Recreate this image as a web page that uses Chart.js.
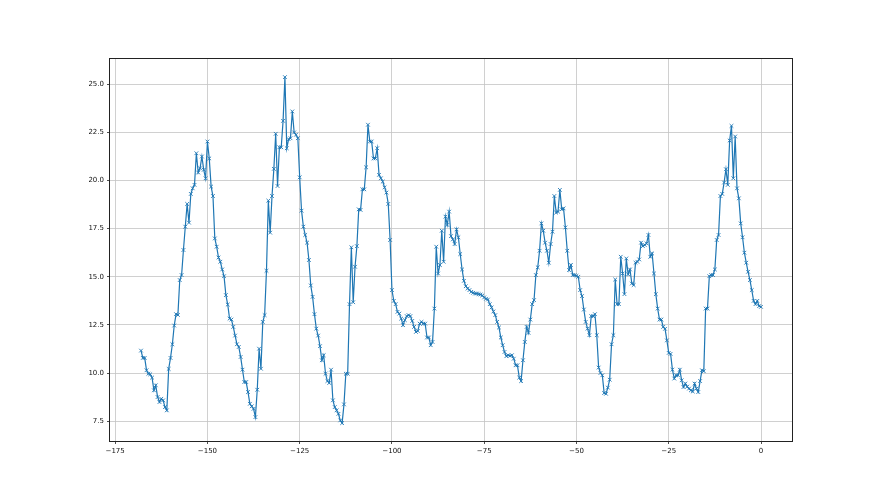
<!DOCTYPE html>
<html lang="en">
<head>
<meta charset="UTF-8">
<title>Series</title>
<style>
  * { margin: 0; padding: 0; box-sizing: border-box; }
  body { background: #fff; width: 880px; height: 495px; overflow: hidden; }
  #chart-container { width: 880px; height: 495px; }
</style>
</head>
<body>
<div id="chart-container"><canvas id="myChart" width="880" height="495"></canvas></div>
<script src="https://cdn.jsdelivr.net/npm/chart.js"></script>
<script>
// sample range on the x axis (evenly spaced samples)
const xStart = -168;
const xEnd = 0;

const xTicks = [-175, -150, -125, -100, -75, -50, -25, 0];
const yTicks = [7.5, 10, 12.5, 15, 17.5, 20, 22.5, 25];

// values, left to right
const values = [
  11.17, 10.79, 10.79, 10.15, 9.97, 9.94, 9.77, 9.11, 9.37, 8.76, 8.50, 8.67, 8.59, 8.24, 8.07,
  10.22, 10.79, 11.50, 12.47, 13.06, 13.02, 14.83, 15.09, 16.39, 17.60, 18.78, 17.81, 19.30, 19.59,
  19.77, 21.41, 20.41, 20.63, 21.24, 20.55, 20.11, 22.02, 21.14, 19.68, 19.19, 16.99, 16.56, 16.00,
  15.78, 15.38, 15.03, 14.05, 13.56, 12.83, 12.78, 12.40, 11.95, 11.50, 11.36, 10.84,

  10.18, 9.54, 9.54, 9.02, 8.41, 8.28, 8.15, 7.72, 9.14, 11.27, 10.23, 12.66, 13.01, 15.31, 18.95,
  17.29, 19.19, 20.60, 22.42, 19.71, 21.72, 21.72, 23.09, 25.36, 21.67, 22.14, 22.19, 23.58, 22.49,
  22.37, 22.19, 20.16, 18.43, 17.60, 17.17, 16.77, 15.87, 14.55, 13.96, 13.06, 12.31, 11.95, 11.40,
  10.67, 10.93, 9.97, 9.59, 9.49, 10.18, 8.59, 8.24, 8.07, 7.89,

  7.55, 7.41, 8.38, 9.97, 9.97, 13.58, 16.53, 13.68, 15.52, 16.59, 18.50, 18.47, 19.54, 19.54,
  20.68, 22.89, 22.02, 22.02, 21.14, 21.14, 21.67, 20.29, 20.11, 19.94, 19.64, 19.37, 18.78, 16.91,
  14.31, 13.75, 13.58, 13.18, 13.09, 12.83, 12.49, 12.75, 12.96, 13.01, 12.96, 12.71, 12.40, 12.14,
  12.19, 12.57, 12.66, 12.57, 12.57, 11.85, 11.85, 11.45, 11.62, 13.35, 16.56, 15.17, 15.61, 17.39,

  15.78, 18.12, 17.69, 18.38, 17.11, 16.94, 16.70, 17.46, 17.05, 16.18, 15.38, 14.79, 14.51, 14.39,
  14.31, 14.22, 14.17, 14.13, 14.13, 14.10, 14.08, 14.03, 13.93, 13.86, 13.82, 13.58, 13.41, 13.20,
  13.01, 12.66, 12.37, 11.85, 11.45, 11.10, 10.88, 10.93, 10.90, 10.93, 10.75, 10.41, 10.41, 9.77,
  9.59, 10.67, 11.62, 12.40, 12.09, 12.78, 13.58, 13.79, 15.09, 15.49, 16.35, 17.77, 17.39, 16.77,
  16.35,

  15.73, 16.70, 17.34, 19.19, 18.33, 18.38, 19.51, 18.50, 18.55, 17.56, 16.35, 15.35, 15.61, 15.09,
  15.09, 15.05, 15.00, 14.31, 14.00, 13.30, 12.66, 12.31, 11.97, 12.96, 12.96, 13.06, 11.97, 10.29,
  10.01, 9.89, 8.97, 8.93, 9.25, 9.66, 11.50, 11.97, 14.86, 13.58, 13.58, 16.04, 15.17, 14.10, 15.95,
  15.13, 15.38, 14.65, 14.57, 15.73, 15.78, 15.90, 16.77, 16.59, 16.65, 16.73, 17.17, 16.04, 16.21,
  15.17,

  14.10, 13.35, 12.78, 12.78, 12.40, 12.30, 11.70, 11.05, 11.00, 10.18, 9.72, 9.89, 9.89, 10.18,
  9.63, 9.28, 9.46, 9.30, 9.20, 9.11, 9.05, 9.46, 9.20, 9.02, 9.59, 10.15, 10.10, 13.35, 13.35,
  15.03, 15.09, 15.09, 15.38, 16.91, 17.17, 19.19, 19.30, 19.89, 20.58, 19.77, 22.07, 22.83, 20.11,
  22.28, 19.59, 19.07, 17.77, 17.05, 16.25, 15.73, 15.26, 14.83, 14.31, 13.75, 13.58, 13.75, 13.48,
  13.44
];

const step = (xEnd - xStart) / (values.length - 1);
const points = values.map((v, i) => ({ x: xStart + i * step, y: v }));

const tickFont = { family: 'DejaVu Sans', size: 7 };

// box round the plot, like the matplotlib spines
const frame = {
  id: 'frame',
  afterDraw(chart) {
    const a = chart.chartArea;
    const ctx = chart.ctx;
    ctx.save();
    ctx.strokeStyle = '#222';
    ctx.lineWidth = 1;
    ctx.strokeRect(a.left - 0.5, a.top - 0.5, a.right - a.left + 1, a.bottom - a.top + 1);
    ctx.restore();
  }
};

const ctx = document.getElementById('myChart').getContext('2d');
new Chart(ctx, {
  type: 'line',
  data: {
    datasets: [{
      data: points,
      borderColor: '#1f77b4',
      backgroundColor: '#1f77b4',
      borderWidth: 1.2,
      tension: 0,
      fill: false,
      pointStyle: 'crossRot',
      pointRadius: 2.6,
      pointBorderWidth: 0.9,
      pointBorderColor: '#1f77b4'
    }]
  },
  options: {
    responsive: false,
    animation: false,
    devicePixelRatio: 1,
    layout: { padding: { top: 59, right: 88, bottom: 0, left: 0 } },
    plugins: { legend: { display: false }, tooltip: { enabled: false } },
    scales: {
      x: {
        type: 'linear',
        min: -176.4,
        max: 8.4,
        afterBuildTicks: s => { s.ticks = xTicks.map(v => ({ value: v })); },
        afterFit: s => { s.height = 54; },
        border: { display: false },
        grid: { color: '#c4c4c4', lineWidth: 0.8, tickColor: '#222', tickLength: 3, tickWidth: 0.8 },
        ticks: {
          font: tickFont,
          color: '#111',
          padding: 3,
          maxRotation: 0,
          autoSkip: false,
          callback: v => String(v).replace('-', '\u2212')
        }
      },
      y: {
        min: 6.48,
        max: 26.3,
        afterBuildTicks: s => { s.ticks = yTicks.map(v => ({ value: v })); },
        afterFit: s => { s.width = 110; },
        border: { display: false },
        grid: { color: '#c4c4c4', lineWidth: 0.8, tickColor: '#222', tickLength: 3, tickWidth: 0.8 },
        ticks: {
          font: tickFont,
          color: '#111',
          padding: 3,
          autoSkip: false,
          callback: v => v.toFixed(1)
        }
      }
    }
  },
  plugins: [frame]
});
</script>
</body>
</html>
